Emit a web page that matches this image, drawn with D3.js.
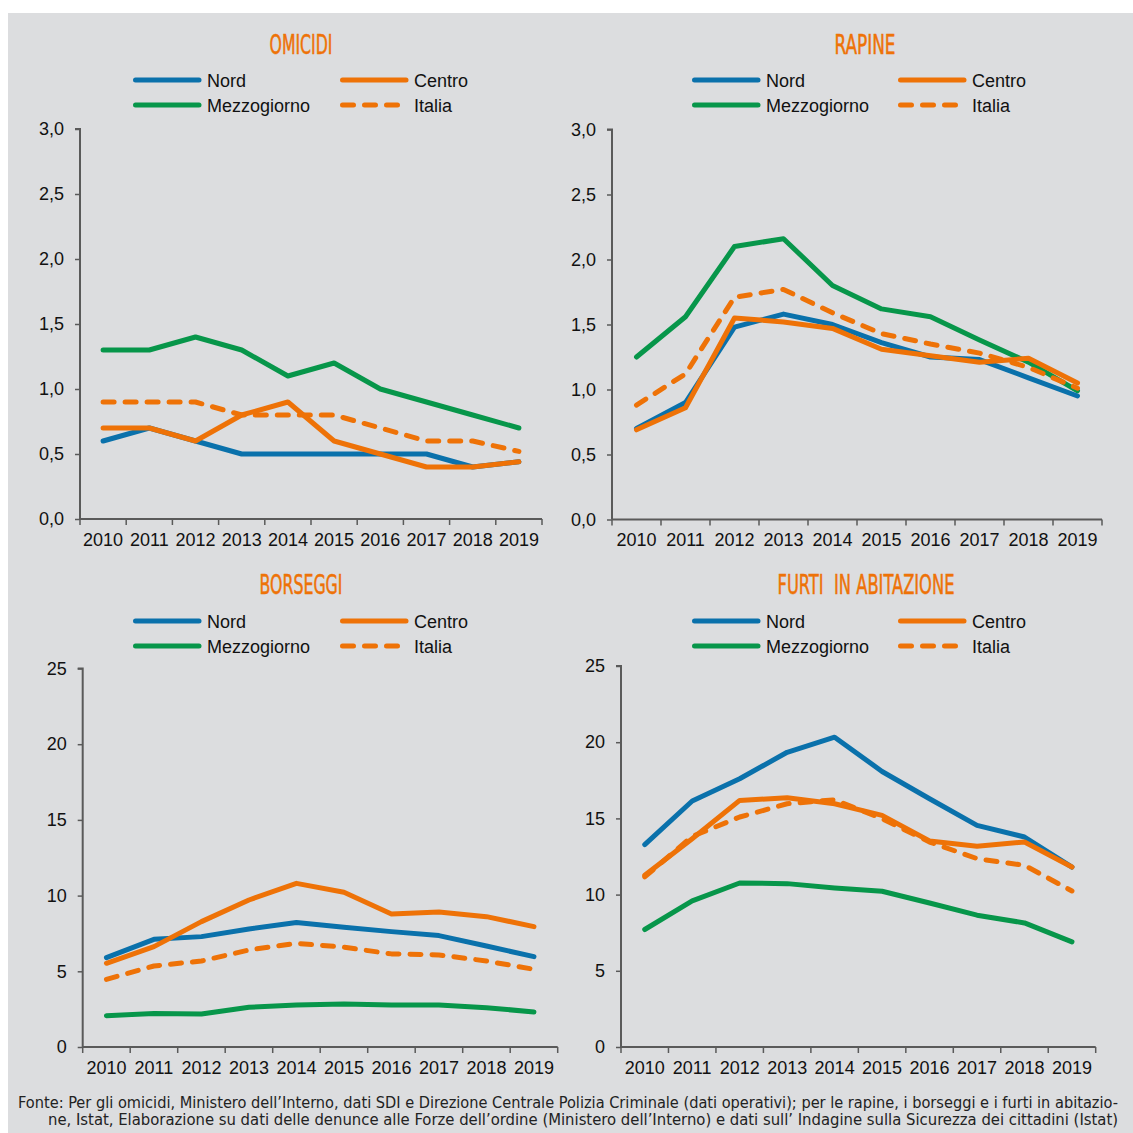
<!DOCTYPE html>
<html><head><meta charset="utf-8">
<script src="https://cdn.jsdelivr.net/npm/d3@7"></script>
<style>
html,body{margin:0;padding:0;background:#fff;}
svg{display:block;}
</style></head>
<body>
<svg id="chart" width="1133" height="1133"></svg>
<script>
const years = ["2010","2011","2012","2013","2014","2015","2016","2017","2018","2019"];
const seriesNames = ["Nord","Centro","Mezzogiorno","Italia"];

const omicidiNord        = [0.60,0.70,0.60,0.50,0.50,0.50,0.50,0.50,0.40,0.44];
const omicidiCentro      = [0.70,0.70,0.60,0.80,0.90,0.60,0.50,0.40,0.40,0.44];
const omicidiMezzogiorno = [1.30,1.30,1.40,1.30,1.10,1.20,1.00,0.90,0.80,0.70];
const omicidiItalia      = [0.90,0.90,0.90,0.80,0.80,0.80,0.70,0.60,0.60,0.52];

const rapineNord        = [0.70,0.90,1.48,1.58,1.50,1.36,1.25,1.23,1.09,0.95];
const rapineCentro      = [0.69,0.86,1.55,1.52,1.47,1.31,1.26,1.21,1.24,1.05];
const rapineMezzogiorno = [1.25,1.56,2.10,2.16,1.80,1.62,1.56,1.38,1.21,0.99];
const rapineItalia      = [0.88,1.12,1.71,1.77,1.59,1.43,1.35,1.28,1.17,1.01];

const borseggiNord        = [5.90,7.11,7.29,7.80,8.22,7.91,7.62,7.36,6.67,5.97];
const borseggiCentro      = [5.53,6.63,8.28,9.71,10.81,10.22,8.79,8.92,8.61,7.95];
const borseggiMezzogiorno = [2.07,2.22,2.18,2.62,2.78,2.84,2.78,2.78,2.60,2.31];
const borseggiItalia      = [4.47,5.35,5.68,6.41,6.85,6.59,6.15,6.08,5.68,5.13];

const furtiNord        = [13.28,16.14,17.60,19.34,20.33,18.08,16.29,14.54,13.78,11.81];
const furtiCentro      = [11.27,13.67,16.18,16.35,15.96,15.20,13.52,13.17,13.45,11.81];
const furtiMezzogiorno = [7.71,9.59,10.76,10.72,10.44,10.22,9.45,8.65,8.14,6.90];
const furtiItalia      = [11.16,13.82,15.09,15.96,16.22,14.98,13.45,12.36,11.92,10.24];

const titles = ["OMICIDI","RAPINE","BORSEGGI","FURTI  IN ABITAZIONE"];
const ticksSmall = [0,0.5,1,1.5,2,2.5,3];
const ticksLarge = [0,5,10,15,20,25];
const footnoteLines = [
 "Fonte: Per gli omicidi, Ministero dell\u2019Interno, dati SDI e Direzione Centrale Polizia Criminale (dati operativi); per le rapine, i borseggi e i furti in abitazio-",
 "ne, Istat, Elaborazione su dati delle denunce alle Forze dell\u2019ordine (Ministero dell\u2019Interno) e dati sull\u2019 Indagine sulla Sicurezza dei cittadini (Istat)"
];

const colors = {Nord:"#0a71ab", Centro:"#ee7207", Mezzogiorno:"#07964a", Italia:"#ee7207"};
const itLocale = d3.formatLocale({decimal:",",thousands:".",grouping:[3],currency:["€",""]});

const panels = [
 {title:titles[0], data:[omicidiNord,omicidiCentro,omicidiMezzogiorno,omicidiItalia], ticks:ticksSmall, max:3, fmt:itLocale.format(".1f"),
  x0:80, x1:542, y0:519, yTop:129, titleX:301, titleY:54, titleW:63, legX:133, legX2:340, legY:80},
 {title:titles[1], data:[rapineNord,rapineCentro,rapineMezzogiorno,rapineItalia], ticks:ticksSmall, max:3, fmt:itLocale.format(".1f"),
  x0:612, x1:1102, y0:519.5, yTop:129.5, titleX:865, titleY:54, titleW:61, legX:692, legX2:898, legY:80},
 {title:titles[2], data:[borseggiNord,borseggiCentro,borseggiMezzogiorno,borseggiItalia], ticks:ticksLarge, max:25, fmt:itLocale.format("d"),
  x0:82.7, x1:557.7, y0:1047, yTop:668.5, titleX:301, titleY:594, titleW:83, legX:133, legX2:340, legY:621},
 {title:titles[3], data:[furtiNord,furtiCentro,furtiMezzogiorno,furtiItalia], ticks:ticksLarge, max:25, fmt:itLocale.format("d"),
  x0:621, x1:1095.7, y0:1047, yTop:666, titleX:866, titleY:594, titleW:177, legX:692, legX2:898, legY:621}
];

const svg = d3.select("#chart");
svg.append("rect").attr("x",8).attr("y",13).attr("width",1125).attr("height",1120).attr("fill","#dcdddf");

const axisColor = "#5a5a5a";
const sans = "'Liberation Sans', Arial, sans-serif";
const narrow = "'Liberation Sans Narrow', 'DejaVu Sans Condensed', sans-serif";

panels.forEach(p => {
  const g = svg.append("g");
  const x = d3.scaleBand().domain(years).range([p.x0, p.x1]).padding(0);
  const y = d3.scaleLinear().domain([0, p.max]).range([p.y0, p.yTop]);

  // title
  g.append("text").attr("x", p.titleX).attr("y", p.titleY).attr("text-anchor","middle")
    .attr("font-family", narrow).attr("font-size", 26).attr("fill", "#ee7207")
    .attr("stroke", "#ee7207").attr("stroke-width", 0.5)
    .attr("textLength", p.titleW).attr("lengthAdjust","spacingAndGlyphs")
    .style("white-space","pre").text(p.title);

  // legend
  const legItems = [
    {name:"Nord", lx:p.legX, ly:p.legY},
    {name:"Centro", lx:p.legX2, ly:p.legY},
    {name:"Mezzogiorno", lx:p.legX, ly:p.legY+25},
    {name:"Italia", lx:p.legX2, ly:p.legY+25}
  ];
  legItems.forEach(it => {
    g.append("line").attr("x1", it.lx+2.5).attr("x2", it.lx+66).attr("y1", it.ly).attr("y2", it.ly)
      .attr("stroke", colors[it.name]).attr("stroke-width", 5).attr("stroke-linecap","round")
      .attr("stroke-dasharray", it.name==="Italia" ? "11,11" : null);
    g.append("text").attr("x", it.lx+74).attr("y", it.ly+6.5).attr("font-family", sans).attr("font-size", 18)
      .attr("fill","#111").text(it.name);
  });

  // axes
  const yAxis = d3.axisLeft(y).tickValues(p.ticks).tickFormat(p.fmt).tickSize(5).tickPadding(11);
  const ya = g.append("g").attr("transform", `translate(${p.x0},0)`).call(yAxis);
  const xAxis = d3.axisBottom(x).tickSize(0).tickPadding(14);
  const xa = g.append("g").attr("transform", `translate(0,${p.y0})`).call(xAxis);
  [ya, xa].forEach(a => {
    a.select(".domain").attr("stroke", axisColor).attr("stroke-width", 2);
    a.selectAll(".tick line").attr("stroke", axisColor).attr("stroke-width", 1.5);
    a.selectAll("text").attr("font-family", sans).attr("font-size", 18).attr("fill", "#111");
  });
  ya.select(".domain").attr("d", `M-5,${y(p.max)}H0V${p.y0}`);
  xa.select(".domain").attr("d", `M${p.x0},0H${p.x1}`);
  xa.selectAll("text").attr("dy", "0.71em");
  // x ticks at band boundaries
  const bounds = years.map(d => x(d)).concat([p.x1]);
  xa.selectAll(".bt").data(bounds).join("line").attr("class","bt")
    .attr("x1", d=>d).attr("x2", d=>d).attr("y1",0).attr("y2",6)
    .attr("stroke", axisColor).attr("stroke-width", 1.5);

  // lines
  const line = d3.line().x((d,i)=> x(years[i]) + x.bandwidth()/2).y(d => y(d));
  const order = [2,3,0,1]; // draw order: Mezzogiorno, Italia, Nord, Centro
  order.forEach(k => {
    const name = seriesNames[k];
    g.append("path").datum(p.data[k]).attr("d", line).attr("fill","none")
      .attr("stroke", colors[name]).attr("stroke-width", 5)
      .attr("stroke-linejoin","round").attr("stroke-linecap","round")
      .attr("stroke-dasharray", name==="Italia" ? "11,11" : null);
  });
});

// footnote
svg.append("text").attr("x", 18).attr("y", 1108).attr("font-family", narrow).attr("font-size", 16)
  .attr("fill","#222").attr("textLength", 1100).attr("lengthAdjust","spacingAndGlyphs").text(footnoteLines[0]);
svg.append("text").attr("x", 48).attr("y", 1125).attr("font-family", narrow).attr("font-size", 16)
  .attr("fill","#222").attr("textLength", 1070).attr("lengthAdjust","spacingAndGlyphs").text(footnoteLines[1]);
</script>
</body></html>
